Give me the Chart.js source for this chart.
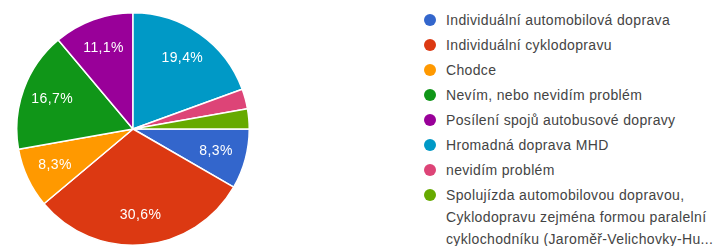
<!DOCTYPE html>
<html><head><meta charset="utf-8">
<script src="https://cdn.jsdelivr.net/npm/chart.js@4/dist/chart.umd.min.js"></script>
<style>
html,body{margin:0;padding:0;background:#fff;width:718px;height:246px;overflow:hidden;font-family:Arial,"Liberation Sans",sans-serif;}
#wrap{position:absolute;left:16px;top:12px;width:234px;height:234px;}
#legend{position:absolute;left:421px;top:9px;width:297px;font-size:14px;letter-spacing:0.35px;color:#444;white-space:nowrap;}
.item{position:relative;padding-left:25px;line-height:22px;margin-bottom:3px;}
.dot{position:absolute;left:3px;top:5px;width:12px;height:12px;border-radius:50%;}
</style></head><body>
<div id="wrap"><canvas id="c"></canvas></div>
<div id="legend"></div>
<script>
const categories = [
  "Individuální automobilová doprava",
  "Individuální cyklodopravu",
  "Chodce",
  "Nevím, nebo nevidím problém",
  "Posílení spojů autobusové dopravy",
  "Hromadná doprava MHD",
  "nevidím problém",
  "Spolujízda automobilovou dopravou, Cyklodopravu zejména formou paralelní cyklochodníku (Jaroměř-Velichovky-Hu..."
];
const legendLines = [
  ["Individuální automobilová doprava"],
  ["Individuální cyklodopravu"],
  ["Chodce"],
  ["Nevím, nebo nevidím problém"],
  ["Posílení spojů autobusové dopravy"],
  ["Hromadná doprava MHD"],
  ["nevidím problém"],
  ["Spolujízda automobilovou dopravou,", "Cyklodopravu zejména formou paralelní", "cyklochodníku (Jaroměř-Velichovky-Hu..."]
];
const counts = [3, 11, 3, 6, 4, 7, 1, 1];
const colors = ["#3366cc","#dc3912","#ff9900","#109618","#990099","#0099c6","#dd4477","#66aa00"];

const total = counts.reduce((a,b)=>a+b,0);
const pctLabel = v => (Math.round(v/total*1000)/10).toFixed(1).replace('.', ',') + '%';

const labelPlugin = {
  id:'pctLabels',
  afterDatasetsDraw(chart){
    const ctx = chart.ctx;
    const meta = chart.getDatasetMeta(0);
    ctx.save();
    ctx.fillStyle = '#fff';
    ctx.font = '14px Arial, "Liberation Sans", sans-serif';
    try { ctx.letterSpacing = '0.4px'; } catch(e) {}
    ctx.textAlign = 'center';
    ctx.textBaseline = 'middle';
    meta.data.forEach((arc,i)=>{
      if (counts[i]/total < 0.05) return;
      const p = arc.getProps(['startAngle','endAngle','outerRadius','x','y'], true);
      const mid = (p.startAngle + p.endAngle)/2;
      const r = p.outerRadius*0.74;
      ctx.fillText(pctLabel(counts[i]), p.x + Math.cos(mid)*r, p.y + Math.sin(mid)*r);
    });
    ctx.restore();
  }
};

new Chart(document.getElementById('c'), {
  type:'pie',
  data:{labels:categories, datasets:[{data:counts, backgroundColor:colors, borderColor:'#fff', borderWidth:1.5}]},
  options:{
    responsive:true, maintainAspectRatio:false, animation:false,
    rotation:90,
    layout:{padding:0},
    plugins:{legend:{display:false}, tooltip:{enabled:false}}
  },
  plugins:[labelPlugin]
});

const lg = document.getElementById('legend');
legendLines.forEach((lines,i)=>{
  const d = document.createElement('div');
  d.className='item';
  d.innerHTML = '<span class="dot" style="background:'+colors[i]+'"></span>' + lines.join('<br>');
  lg.appendChild(d);
});
</script>
</body></html>
